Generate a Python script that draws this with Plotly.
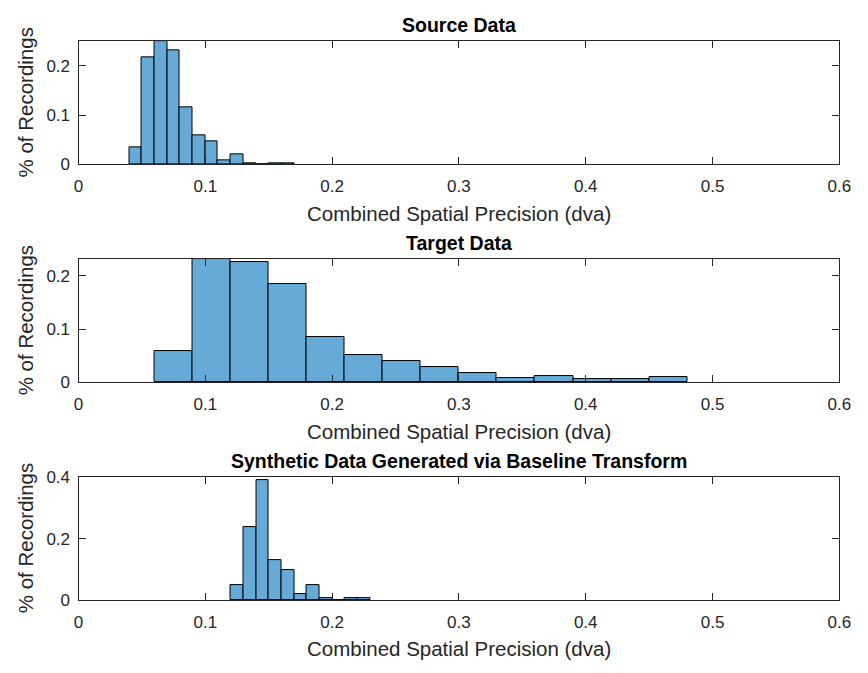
import numpy as np
import plotly.graph_objects as go

# Histogram bins: first left edge, bin width and normalised counts per bin
source_start, source_width = 0.04, 0.01
source_vals = [0.034, 0.217, 0.249, 0.230, 0.116, 0.059, 0.047, 0.008, 0.020,
               0.003, 0.0, 0.002, 0.002]

target_start, target_width = 0.06, 0.03
target_vals = [0.059, 0.231, 0.225, 0.184, 0.0855, 0.0515, 0.041, 0.028, 0.0175,
               0.009, 0.0127, 0.0065, 0.0065, 0.0097]

synth_start, synth_width = 0.12, 0.01
synth_vals = [0.050, 0.236, 0.389, 0.131, 0.099, 0.018, 0.050, 0.008, 0.0,
              0.008, 0.008]

titles = ["Source Data", "Target Data",
          "Synthetic Data Generated via Baseline Transform"]
x_label = "Combined Spatial Precision (dva)"
y_label = "% of Recordings"
x_ticks = [0, 0.1, 0.2, 0.3, 0.4, 0.5, 0.6]
y_ticks = [[0, 0.1, 0.2], [0, 0.1, 0.2], [0, 0.2, 0.4]]
y_max = [max(source_vals), max(target_vals), 0.4]

W, H = 868, 673
AX = "#262626"
FILL = "rgb(102,170,215)"
FONT = "Liberation Sans, Arial, sans-serif"

# panel boxes in pixels (top, bottom)
panels = [(33.3, 160), (257.3, 384.3), (481.7, 608.3)]
x_left, x_right = 75, 851

fig = go.Figure()
series = [(source_start, source_width, source_vals),
          (target_start, target_width, target_vals),
          (synth_start, synth_width, synth_vals)]

annotations = []
for i, ((start, width, vals), (top, bot)) in enumerate(zip(series, panels)):
    n = i + 1
    centers = start + width * (np.arange(len(vals)) + 0.5)
    fig.add_trace(go.Bar(
        x=centers, y=vals, width=width,
        marker=dict(color=FILL, line=dict(color="black", width=1)),
        xaxis=f"x{n}" if n > 1 else "x", yaxis=f"y{n}" if n > 1 else "y",
        showlegend=False, hoverinfo="x+y",
    ))
    axis_common = dict(
        showline=True, linecolor=AX, linewidth=1.2, mirror="allticks",
        ticks="inside", ticklen=7, tickwidth=1, tickcolor=AX,
        showgrid=False, zeroline=False,
        tickfont=dict(family=FONT, size=17, color=AX),
    )
    fig.update_layout(**{
        f"xaxis{n if n > 1 else ''}": dict(
            domain=[x_left / W, x_right / W], range=[0, 0.6],
            tickvals=x_ticks, ticktext=[f"{v:g}" for v in x_ticks],
            anchor=f"y{n}" if n > 1 else "y", ticklabelstandoff=6,
            **axis_common),
        f"yaxis{n if n > 1 else ''}": dict(
            domain=[1 - bot / H, 1 - top / H], range=[0, y_max[i]],
            tickvals=y_ticks[i], ticktext=[f"{v:g}" for v in y_ticks[i]],
            anchor=f"x{n}" if n > 1 else "x", ticklabelstandoff=4,
            **axis_common),
    })
    # panel title
    annotations.append(dict(
        text=f"<b>{titles[i]}</b>", x=(x_left + x_right) / 2 / W,
        y=1 - (top - 17) / H, xref="paper", yref="paper",
        xanchor="center", yanchor="middle", showarrow=False,
        font=dict(family=FONT, size=19.5, color="black")))
    # x axis label
    annotations.append(dict(
        text=x_label, x=(x_left + x_right) / 2 / W,
        y=1 - (bot + 50) / H, xref="paper", yref="paper",
        xanchor="center", yanchor="middle", showarrow=False,
        font=dict(family=FONT, size=20.5, color=AX)))
    # y axis label
    annotations.append(dict(
        text=y_label, x=21 / W, y=1 - (top + bot) / 2 / H,
        xref="paper", yref="paper", textangle=-90,
        xanchor="center", yanchor="middle", showarrow=False,
        font=dict(family=FONT, size=20.5, color=AX)))

fig.update_layout(
    width=W, height=H, autosize=False,
    margin=dict(l=0, r=0, t=0, b=0),
    paper_bgcolor="white", plot_bgcolor="white",
    bargap=0, annotations=annotations,
)

fig.write_html("out.html")
